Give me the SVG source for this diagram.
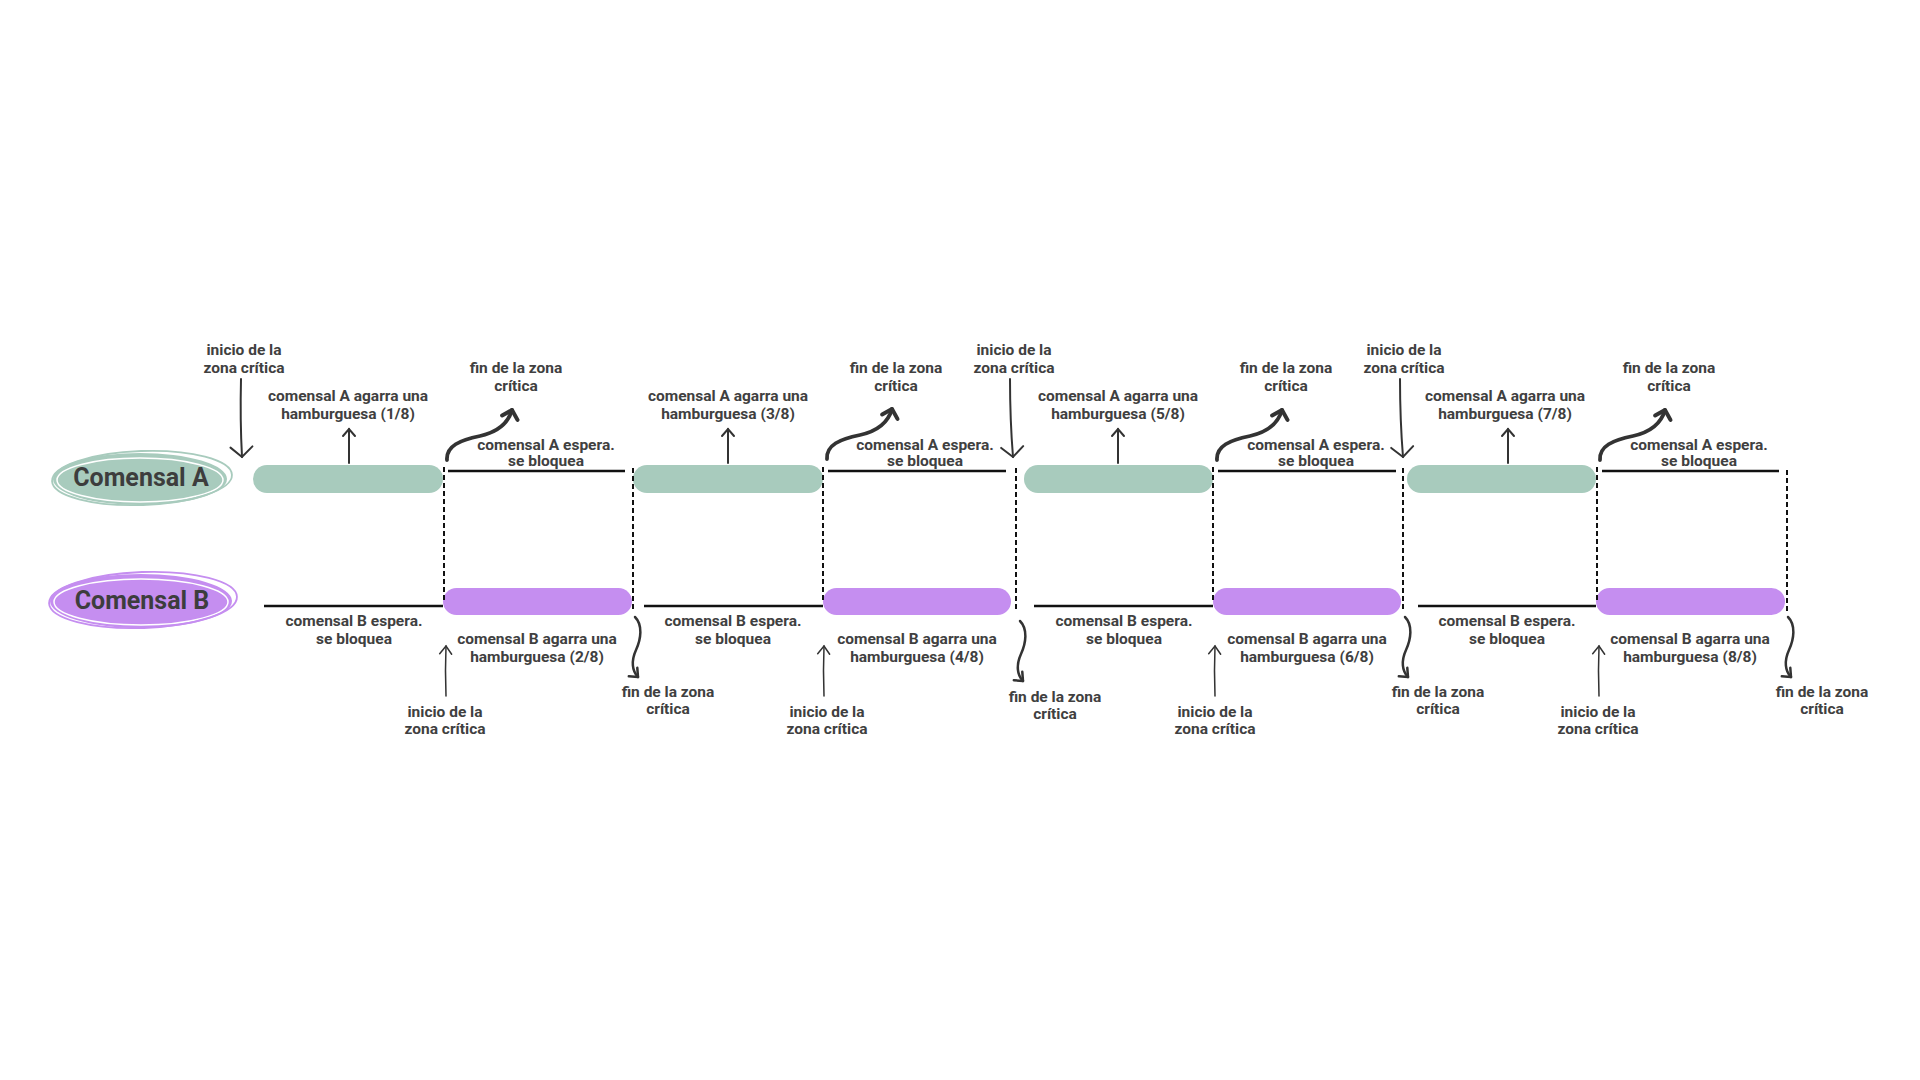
<svg xmlns="http://www.w3.org/2000/svg" width="1920" height="1080" viewBox="0 0 1920 1080">
<style>
  .lbl { font-family: Roboto, "Liberation Sans", sans-serif; font-weight: 700; font-size: 15.5px; fill: #404040; text-anchor: middle; }
  .name { font-family: Roboto, "Liberation Sans", sans-serif; font-weight: 700; font-size: 25px; fill: #3d3d3d; text-anchor: middle; }
  .barA { fill: #a8cbbd; }
  .barB { fill: #c58ef0; }
  .wait { stroke: #111; stroke-width: 2.5; fill: none; }
  .dash { stroke: #111; stroke-width: 2; stroke-dasharray: 5 3; fill: none; }
  .arr { stroke: #333; fill: none; stroke-linecap: round; }
</style>
<defs>
  <marker id="mDown" markerUnits="userSpaceOnUse" viewBox="-13 -13 16 26" markerWidth="16" markerHeight="26" refX="0" refY="0" orient="auto">
    <path d="M-10,-11 L0,0 L-10,11" stroke="#333" stroke-width="2" fill="none" stroke-linecap="round"/>
  </marker>
  <marker id="mUp" markerUnits="userSpaceOnUse" viewBox="-10 -8 12 16" markerWidth="12" markerHeight="16" refX="0" refY="0" orient="auto">
    <path d="M-7,-6 L0,0 L-7,6" stroke="#333" stroke-width="2" fill="none" stroke-linecap="round"/>
  </marker>
  <marker id="mThin" markerUnits="userSpaceOnUse" viewBox="-10 -8 12 16" markerWidth="12" markerHeight="16" refX="0" refY="0" orient="auto">
    <path d="M-8,-6 L0,0 L-8,6" stroke="#333" stroke-width="1.5" fill="none" stroke-linecap="round"/>
  </marker>
  <marker id="mThick" markerUnits="userSpaceOnUse" viewBox="-11 -11 14 22" markerWidth="14" markerHeight="22" refX="0" refY="0" orient="auto">
    <path d="M-8,-8 L0,0 L-8,8" stroke="#333" stroke-width="4" fill="none" stroke-linecap="round" stroke-linejoin="round"/>
  </marker>
  <marker id="mSq" markerUnits="userSpaceOnUse" viewBox="-10 -9 12 18" markerWidth="12" markerHeight="18" refX="0" refY="0" orient="auto">
    <path d="M-7,-6 L0,0 L-7,6" stroke="#333" stroke-width="2.5" fill="none" stroke-linecap="round" stroke-linejoin="round"/>
  </marker>
  <path id="curl" d="M0,0 C-1,-14 13,-20 33,-24 C51,-28 61,-36 65,-50"/>
  <path id="squig" d="M0,0 C8,8 6,22 1,33 C-4,44 -3,54 3,60"/>
</defs>
<rect width="1920" height="1080" fill="#ffffff"/>

<g id="comensal-a">
  <ellipse cx="140" cy="479" rx="87" ry="26" fill="#a8cbbd"/>
  <ellipse cx="140" cy="480" rx="83" ry="22" fill="none" stroke="#ffffff" stroke-width="1.5"/>
  <ellipse cx="142" cy="478" rx="90" ry="27" fill="none" stroke="#a8cbbd" stroke-width="1.8" transform="rotate(-2 142 478)"/>
  <text class="name" x="141" y="486">Comensal A</text>
</g>
<g id="comensal-b">
  <ellipse cx="141" cy="601" rx="91" ry="27" fill="#c58ef0"/>
  <ellipse cx="141" cy="602" rx="87" ry="23" fill="none" stroke="#ffffff" stroke-width="1.5"/>
  <ellipse cx="143" cy="600" rx="94" ry="28" fill="none" stroke="#c58ef0" stroke-width="1.8" transform="rotate(-2 143 600)"/>
  <text class="name" x="142" y="609">Comensal B</text>
</g>

<g id="a-bars">
  <rect class="barA" x="253" y="465" width="190" height="28" rx="14"/>
  <rect class="barA" x="633" y="465" width="190" height="28" rx="14"/>
  <rect class="barA" x="1024" y="465" width="189" height="28" rx="14"/>
  <rect class="barA" x="1407" y="465" width="189" height="28" rx="14"/>
</g>
<g id="b-bars">
  <rect class="barB" x="443" y="588" width="189" height="27" rx="13.5"/>
  <rect class="barB" x="823" y="588" width="188" height="27" rx="13.5"/>
  <rect class="barB" x="1213" y="588" width="188" height="27" rx="13.5"/>
  <rect class="barB" x="1596" y="588" width="189" height="27" rx="13.5"/>
</g>
<g id="a-wait">
  <line class="wait" x1="448" y1="471" x2="625" y2="471"/>
  <line class="wait" x1="828" y1="471" x2="1006" y2="471"/>
  <line class="wait" x1="1218" y1="471" x2="1396" y2="471"/>
  <line class="wait" x1="1602" y1="471" x2="1779" y2="471"/>
</g>
<g id="b-wait">
  <line class="wait" x1="264" y1="606" x2="443" y2="606"/>
  <line class="wait" x1="644" y1="606" x2="823" y2="606"/>
  <line class="wait" x1="1034" y1="606" x2="1213" y2="606"/>
  <line class="wait" x1="1418" y1="606" x2="1596" y2="606"/>
</g>

<g id="connectors">
  <line class="dash" x1="444" y1="467" x2="444" y2="602"/>
  <line class="dash" x1="633" y1="468" x2="633" y2="610"/>
  <line class="dash" x1="823" y1="467" x2="823" y2="602"/>
  <line class="dash" x1="1016" y1="468" x2="1016" y2="610"/>
  <line class="dash" x1="1213" y1="467" x2="1213" y2="602"/>
  <line class="dash" x1="1403" y1="468" x2="1403" y2="612"/>
  <line class="dash" x1="1597" y1="467" x2="1597" y2="602"/>
  <line class="dash" x1="1787" y1="470" x2="1787" y2="612"/>

  <path class="arr" stroke-width="2" d="M241,379 Q240,420 242,457" marker-end="url(#mDown)"/>
  <path class="arr" stroke-width="2" d="M1010,379 Q1010,420 1013,457" marker-end="url(#mDown)"/>
  <path class="arr" stroke-width="2" d="M1400,379 Q1400,420 1403,457" marker-end="url(#mDown)"/>

  <line class="arr" stroke-width="2" x1="349" y1="463" x2="349" y2="429" marker-end="url(#mUp)"/>
  <line class="arr" stroke-width="2" x1="728" y1="463" x2="728" y2="429" marker-end="url(#mUp)"/>
  <line class="arr" stroke-width="2" x1="1118" y1="463" x2="1118" y2="429" marker-end="url(#mUp)"/>
  <line class="arr" stroke-width="2" x1="1508" y1="463" x2="1508" y2="429" marker-end="url(#mUp)"/>

  <use href="#curl" class="arr" stroke-width="3.8" transform="translate(447 460)" marker-end="url(#mThick)"/>
  <use href="#curl" class="arr" stroke-width="3.8" transform="translate(827 459)" marker-end="url(#mThick)"/>
  <use href="#curl" class="arr" stroke-width="3.8" transform="translate(1217 460)" marker-end="url(#mThick)"/>
  <use href="#curl" class="arr" stroke-width="3.8" transform="translate(1600 460)" marker-end="url(#mThick)"/>

  <path class="arr" stroke-width="1.5" d="M446,696 Q445,670 446,646" marker-end="url(#mThin)"/>
  <path class="arr" stroke-width="1.5" d="M824,696 Q823,670 824,646" marker-end="url(#mThin)"/>
  <path class="arr" stroke-width="1.5" d="M1215,696 Q1214,670 1215,646" marker-end="url(#mThin)"/>
  <path class="arr" stroke-width="1.5" d="M1599,696 Q1598,670 1599,646" marker-end="url(#mThin)"/>

  <use href="#squig" class="arr" stroke-width="2.5" transform="translate(635 617)" marker-end="url(#mSq)"/>
  <use href="#squig" class="arr" stroke-width="2.5" transform="translate(1020 621)" marker-end="url(#mSq)"/>
  <use href="#squig" class="arr" stroke-width="2.5" transform="translate(1405 617)" marker-end="url(#mSq)"/>
  <use href="#squig" class="arr" stroke-width="2.5" transform="translate(1788 617)" marker-end="url(#mSq)"/>
</g>

<g id="labels-top">
  <text class="lbl" x="244" y="355">inicio de la</text><text class="lbl" x="244" y="373">zona crítica</text>
  <text class="lbl" x="1014" y="355">inicio de la</text><text class="lbl" x="1014" y="373">zona crítica</text>
  <text class="lbl" x="1404" y="355">inicio de la</text><text class="lbl" x="1404" y="373">zona crítica</text>

  <text class="lbl" x="348" y="401">comensal A agarra una</text><text class="lbl" x="348" y="419">hamburguesa (1/8)</text>
  <text class="lbl" x="728" y="401">comensal A agarra una</text><text class="lbl" x="728" y="419">hamburguesa (3/8)</text>
  <text class="lbl" x="1118" y="401">comensal A agarra una</text><text class="lbl" x="1118" y="419">hamburguesa (5/8)</text>
  <text class="lbl" x="1505" y="401">comensal A agarra una</text><text class="lbl" x="1505" y="419">hamburguesa (7/8)</text>

  <text class="lbl" x="516" y="373">fin de la zona</text><text class="lbl" x="516" y="391">crítica</text>
  <text class="lbl" x="896" y="373">fin de la zona</text><text class="lbl" x="896" y="391">crítica</text>
  <text class="lbl" x="1286" y="373">fin de la zona</text><text class="lbl" x="1286" y="391">crítica</text>
  <text class="lbl" x="1669" y="373">fin de la zona</text><text class="lbl" x="1669" y="391">crítica</text>

  <text class="lbl" x="546" y="450">comensal A espera.</text><text class="lbl" x="546" y="466">se bloquea</text>
  <text class="lbl" x="925" y="450">comensal A espera.</text><text class="lbl" x="925" y="466">se bloquea</text>
  <text class="lbl" x="1316" y="450">comensal A espera.</text><text class="lbl" x="1316" y="466">se bloquea</text>
  <text class="lbl" x="1699" y="450">comensal A espera.</text><text class="lbl" x="1699" y="466">se bloquea</text>
</g>

<g id="labels-bottom">
  <text class="lbl" x="354" y="626">comensal B espera.</text><text class="lbl" x="354" y="644">se bloquea</text>
  <text class="lbl" x="733" y="626">comensal B espera.</text><text class="lbl" x="733" y="644">se bloquea</text>
  <text class="lbl" x="1124" y="626">comensal B espera.</text><text class="lbl" x="1124" y="644">se bloquea</text>
  <text class="lbl" x="1507" y="626">comensal B espera.</text><text class="lbl" x="1507" y="644">se bloquea</text>

  <text class="lbl" x="537" y="644">comensal B agarra una</text><text class="lbl" x="537" y="662">hamburguesa (2/8)</text>
  <text class="lbl" x="917" y="644">comensal B agarra una</text><text class="lbl" x="917" y="662">hamburguesa (4/8)</text>
  <text class="lbl" x="1307" y="644">comensal B agarra una</text><text class="lbl" x="1307" y="662">hamburguesa (6/8)</text>
  <text class="lbl" x="1690" y="644">comensal B agarra una</text><text class="lbl" x="1690" y="662">hamburguesa (8/8)</text>

  <text class="lbl" x="445" y="717">inicio de la</text><text class="lbl" x="445" y="734">zona crítica</text>
  <text class="lbl" x="827" y="717">inicio de la</text><text class="lbl" x="827" y="734">zona crítica</text>
  <text class="lbl" x="1215" y="717">inicio de la</text><text class="lbl" x="1215" y="734">zona crítica</text>
  <text class="lbl" x="1598" y="717">inicio de la</text><text class="lbl" x="1598" y="734">zona crítica</text>

  <text class="lbl" x="668" y="697">fin de la zona</text><text class="lbl" x="668" y="714">crítica</text>
  <text class="lbl" x="1055" y="702">fin de la zona</text><text class="lbl" x="1055" y="719">crítica</text>
  <text class="lbl" x="1438" y="697">fin de la zona</text><text class="lbl" x="1438" y="714">crítica</text>
  <text class="lbl" x="1822" y="697">fin de la zona</text><text class="lbl" x="1822" y="714">crítica</text>
</g>
</svg>
